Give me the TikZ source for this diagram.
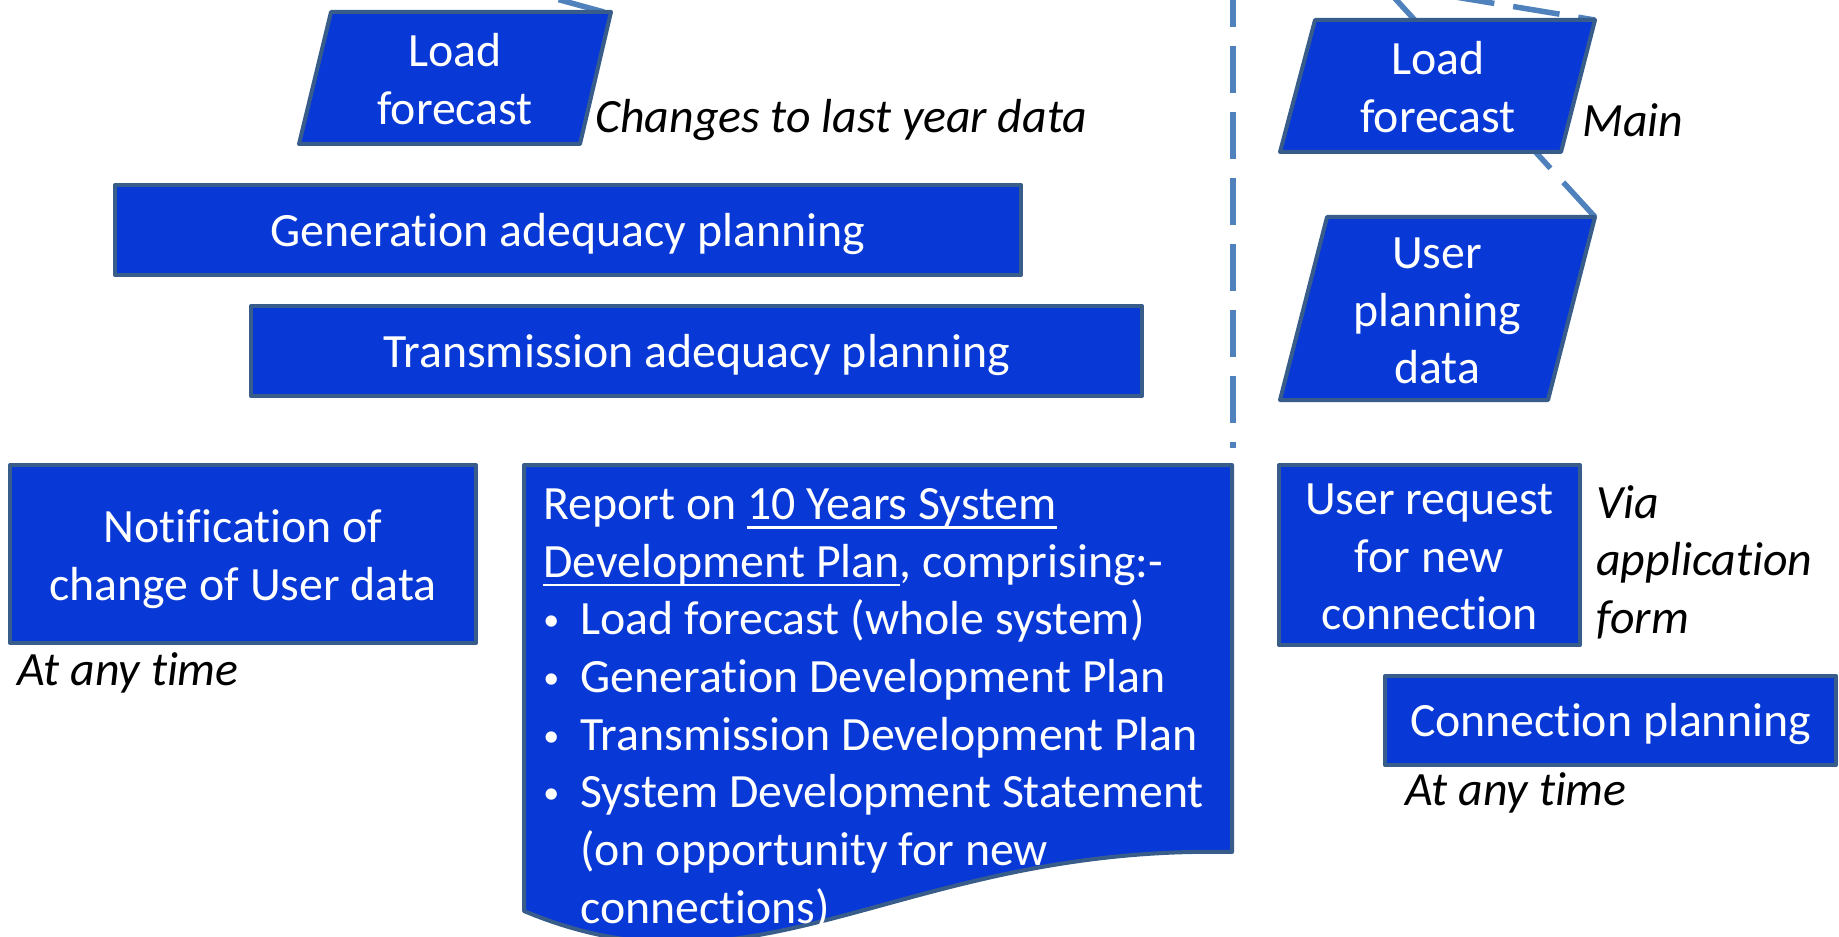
\documentclass[tikz,border=0pt]{standalone}
\usepackage{fontspec}
\setmainfont{Carlito}[Ligatures=NoCommon]
\usetikzlibrary{positioning}
\definecolor{boxblue}{RGB}{8,56,214}
\definecolor{boxedge}{RGB}{56,93,138}
\definecolor{linkblue}{RGB}{79,129,189}
\newsavebox{\rptulbox}
\newcommand{\rptul}[1]{\sbox{\rptulbox}{#1}\rlap{\rule[-4.6pt]{\wd\rptulbox}{1.4pt}}\usebox{\rptulbox}}
\newcommand{\rptbullet}{\makebox[18.5pt][l]{\raisebox{2pt}{\fontsize{16pt}{16pt}\selectfont\textbullet}}}
\newcommand{\boxtop}{\rule{0pt}{21pt}}
\newcommand{\boxfoot}{\rule[-5pt]{0pt}{5pt}}

\begin{document}
\begin{tikzpicture}[x=0.5pt, y=-0.5pt,
    every node/.style={font=\fontsize{23.9pt}{28.85pt}\selectfont},
    boxtext/.style={text=white, align=center, inner sep=0pt},
    rectbox/.style={draw=boxedge, line width=2pt, line join=round, fill=boxblue, text=white, align=center,
        execute at begin node=\boxtop, execute at end node=\boxfoot},
    slantbox/.style={draw=boxedge, line width=2pt, line join=round, fill=boxblue},
    note/.style={font=\fontsize{23.9pt}{28.85pt}\selectfont\itshape, inner sep=0pt},
    link/.style={draw=linkblue, line width=2.75pt, dash pattern=on 23.5pt off 9.5pt}]
    \useasboundingbox (0,0) rectangle (1839,936);
    \clip (0,0) rectangle (1839,936);

    % Corners of the slanted data boxes
    \coordinate (lfL-nw) at (331,12);  \coordinate (lfL-ne) at (611,12);
    \coordinate (lfL-se) at (580,144); \coordinate (lfL-sw) at (299,144);
    \coordinate (lfR-nw) at (1315,20); \coordinate (lfR-ne) at (1595,20);
    \coordinate (lfR-se) at (1561,152); \coordinate (lfR-sw) at (1280,152);
    \coordinate (upd-nw) at (1327,217); \coordinate (upd-ne) at (1595,217);
    \coordinate (upd-se) at (1548,400); \coordinate (upd-sw) at (1280,400);
    \coordinate (lfL-top) at (604,12);

    % Loose ends of the links (off the page)
    \coordinate (inL) at (527,-9);
    \coordinate (inR1) at (1379,-19);
    \coordinate (inR2) at (1437,-6);

    % Divider between the two flows
    \draw[linkblue, line width=3pt, dash pattern=on 23.5pt off 9.5pt] (1233,-20) -- (1233,448);

    % Links
    \draw[link] (lfL-top) -- (inL);
    \draw[link] (upd-ne) -- (inR1);
    \draw[link, dash phase=15pt] (lfR-ne) -- (inR2);

    % Left flow
    \draw[slantbox] (lfL-nw) -- (lfL-ne) -- (lfL-se) -- (lfL-sw) -- cycle;
    \node[boxtext] (lfL) at (455,79) {Load\\forecast};
    \node[note, anchor=base west] (chg) at (595,133) {Changes to last year data};

    \node[rectbox, minimum width=453pt, minimum height=45pt] (gen) at (568,230) {Generation adequacy planning};
    \node[rectbox, minimum width=445.5pt, minimum height=45pt] (trans) at (696.5,351) {Transmission adequacy planning};

    \node[rectbox, minimum width=233pt, minimum height=89pt] (notif) at (243,554) {};
    \node[boxtext] (notif-txt) at (243,559.5) {Notification of\\change of User data};
    \node[note, anchor=base west] (anyL) at (17,685) {At any time};

    % Report (document shape)
    \draw[slantbox] (524,465) -- (1232,465) -- (1232,852)
        .. controls (900,845) and (760,1010) .. (524,911) -- cycle;
    \node[boxtext, align=left, anchor=north west] (report) at (543,488)
        {Report on \rptul{10 Years System}\\
         \rptul{Development Plan}, comprising:-\\
         \rptbullet Load forecast (whole system)\\
         \rptbullet Generation Development Plan\\
         \rptbullet Transmission Development Plan\\
         \rptbullet System Development Statement\\
         \hspace*{18.5pt}(on opportunity for new\\
         \hspace*{18.5pt}connections)};

    % Right flow
    \draw[slantbox] (lfR-nw) -- (lfR-ne) -- (lfR-se) -- (lfR-sw) -- cycle;
    \node[boxtext] (lfR) at (1438,87) {Load\\forecast};
    \node[note, anchor=base west] (mainnote) at (1582,137) {Main};

    \draw[slantbox] (upd-nw) -- (upd-ne) -- (upd-se) -- (upd-sw) -- cycle;
    \node[boxtext] (upd) at (1437,311) {User\\planning\\data};

    \node[rectbox, minimum width=150.5pt, minimum height=90pt] (req) at (1429.5,555) {};
    \node[boxtext] (req-txt) at (1429.5,557) {User request\\for new\\connection};
    \node[note, anchor=north west, align=left] (via) at (1596,485) {Via\\application\\form};

    \node[rectbox, minimum width=225.5pt, minimum height=44.5pt] (conn) at (1610.5,720.5) {Connection planning};
    \node[note, anchor=base west] (anyR) at (1405,805) {At any time};
\end{tikzpicture}
\end{document}
